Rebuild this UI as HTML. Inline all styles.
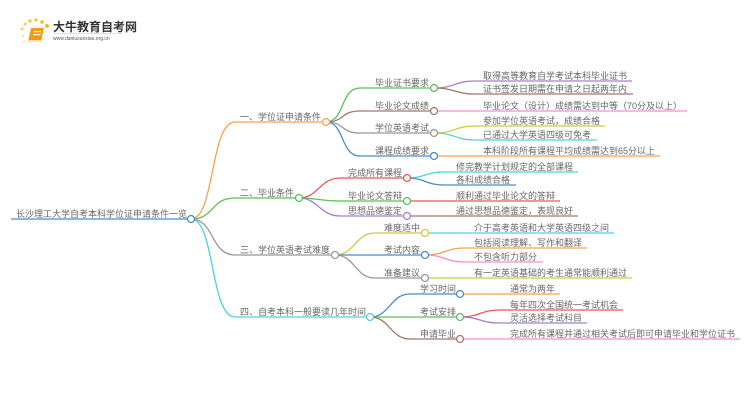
<!DOCTYPE html>
<html><head><meta charset="utf-8"><style>
html,body{margin:0;padding:0;background:#fff;}
svg{display:block;}
text{font-family:"Liberation Sans","Noto Sans CJK SC",sans-serif;font-size:9px;fill:#666;}
</style></head><body>
<svg width="750" height="410" viewBox="0 0 750 410" xmlns="http://www.w3.org/2000/svg">
<!-- logo -->
<g>
<circle cx="22" cy="29" r="1.5" fill="#fbd36b"/><circle cx="25" cy="24" r="1.6" fill="#fbd36b"/><circle cx="30" cy="21" r="1.7" fill="#fbc94a"/><circle cx="36" cy="20" r="1.8" fill="#fbc94a"/><circle cx="42" cy="22" r="1.8" fill="#f7b72c"/><circle cx="47" cy="26" r="2" fill="#f7b72c"/><circle cx="23" cy="36" r="1.3" fill="#fde39a"/><circle cx="24" cy="42" r="1.2" fill="#fde39a"/>
<path d="M31 28 L44 28 L41 42 L28 42 Z" fill="#f29a1a"/>
<path d="M29 40 L41 40 L40 43 L28 43 Z" fill="#fff" opacity="0.7"/>
<rect x="34" y="31" width="7" height="1.2" fill="#fff"/><rect x="33.5" y="34" width="7" height="1.2" fill="#fff"/>
<text x="53" y="31" style="font-size:12px;font-weight:bold;fill:#333">大牛教育自考网</text>
<rect x="53" y="33" width="70" height="0.6" fill="#ccc"/>
<text x="53" y="40" style="font-size:5px;fill:#555">www.daniuxuexiao.org.cn</text>
</g>
<g fill="none" stroke-width="1.3">
<!-- root line -->
<path d="M11 219 H191" stroke="#4a8ccc"/>
<!-- root to branches -->
<path d="M191 219 C215 219 210 122 235 122 H326" stroke="#f9a14f"/>
<path d="M191 219 C215 219 210 198 235 198 H299" stroke="#5cbf5c"/>
<path d="M191 219 C215 219 210 255 235 255 H335" stroke="#999"/>
<path d="M191 219 C215 219 210 317 235 317 H370" stroke="#4dd0e1"/>
<!-- branch1 children -->
<path d="M326 122 C345 122 340 88 360 88 H434" stroke="#5cbf5c"/>
<path d="M326 122 C345 122 340 111 360 111 H434" stroke="#a1776a"/>
<path d="M326 122 C345 122 340 133 360 133 H434" stroke="#999"/>
<path d="M326 122 C345 122 340 156 360 156 H434" stroke="#4a8ccc"/>
<path d="M434 88 C455 88 455 81 475 81 H632" stroke="#a57fd0"/>
<path d="M434 88 C455 88 455 94 475 94 H633" stroke="#a1776a"/>
<path d="M434 111 H687" stroke="#f08fd0"/>
<path d="M434 133 C455 133 455 126 475 126 H605" stroke="#cccc44"/>
<path d="M434 133 C455 133 455 140 475 140 H597" stroke="#4dd0e1"/>
<path d="M434 156 H660" stroke="#f9a14f"/>
<!-- branch2 children -->
<path d="M299 198 C318 198 320 178 340 178 H407" stroke="#ee5555"/>
<path d="M299 198 C318 198 320 201 340 201 H407" stroke="#5cbf5c"/>
<path d="M299 198 C318 198 320 216 340 216 H407" stroke="#a57fd0"/>
<path d="M407 178 C425 178 425 172 445 172 H578" stroke="#4dd0e1"/>
<path d="M407 178 C425 178 425 185 445 185 H516" stroke="#4a8ccc"/>
<path d="M407 201 H560" stroke="#ee5555"/>
<path d="M407 216 H578" stroke="#a1776a"/>
<!-- branch3 children -->
<path d="M335 255 C355 255 355 233 375 233 H425" stroke="#cccc44"/>
<path d="M335 255 H425" stroke="#4a8ccc"/>
<path d="M335 255 C355 255 355 278 375 278 H425" stroke="#999"/>
<path d="M425 233 H614" stroke="#4dd0e1"/>
<path d="M425 255 C445 255 445 248 465 248 H587" stroke="#f9a14f"/>
<path d="M425 255 C445 255 445 262 465 262 H543" stroke="#f08fd0"/>
<path d="M425 278 H632" stroke="#cccc44"/>
<!-- branch4 children -->
<path d="M370 317 C390 317 390 294 410 294 H460" stroke="#4a8ccc"/>
<path d="M370 317 H460" stroke="#5cbf5c"/>
<path d="M370 317 C390 317 390 339 410 339 H460" stroke="#a1776a"/>
<path d="M460 294 H560" stroke="#f9a14f"/>
<path d="M460 317 C480 317 480 310 500 310 H623" stroke="#ee5555"/>
<path d="M460 317 C480 317 480 323 500 323 H587" stroke="#a57fd0"/>
<path d="M460 339 H740" stroke="#f08fd0"/>
</g>
<!-- circles -->
<g fill="#fff" stroke-width="1.3">
<circle cx="191" cy="219" r="3.5" stroke="#4a8ccc"/>
<circle cx="326" cy="122" r="3.5" stroke="#f9a14f"/>
<circle cx="299" cy="198" r="3.5" stroke="#5cbf5c"/>
<circle cx="335" cy="255" r="3.5" stroke="#999"/>
<circle cx="370" cy="317" r="3.5" stroke="#4dd0e1"/>
<circle cx="434" cy="88" r="3.5" stroke="#5cbf5c"/>
<circle cx="434" cy="111" r="3.5" stroke="#a1776a"/>
<circle cx="434" cy="133" r="3.5" stroke="#999"/>
<circle cx="434" cy="156" r="3.5" stroke="#4a8ccc"/>
<circle cx="407" cy="178" r="3.5" stroke="#ee5555"/>
<circle cx="407" cy="201" r="3.5" stroke="#5cbf5c"/>
<circle cx="407" cy="216" r="3.5" stroke="#a57fd0"/>
<circle cx="425" cy="233" r="3.5" stroke="#cccc44"/>
<circle cx="425" cy="255" r="3.5" stroke="#4a8ccc"/>
<circle cx="425" cy="278" r="3.5" stroke="#999"/>
<circle cx="460" cy="294" r="3.5" stroke="#4a8ccc"/>
<circle cx="460" cy="317" r="3.5" stroke="#5cbf5c"/>
<circle cx="460" cy="339" r="3.5" stroke="#a1776a"/>
</g>
<!-- labels -->
<text x="16" y="217">长沙理工大学自考本科学位证申请条件一览</text>
<text x="240" y="120">一、学位证申请条件</text>
<text x="240" y="196">二、毕业条件</text>
<text x="240" y="253">三、学位英语考试难度</text>
<text x="240" y="315">四、自考本科一般要读几年时间</text>
<text x="375" y="86">毕业证书要求</text>
<text x="375" y="109">毕业论文成绩</text>
<text x="375" y="131">学位英语考试</text>
<text x="375" y="154">课程成绩要求</text>
<text x="483" y="79">取得高等教育自学考试本科毕业证书</text>
<text x="483" y="92">证书签发日期需在申请之日起两年内</text>
<text x="483" y="109">毕业论文（设计）成绩需达到中等（70分及以上）</text>
<text x="483" y="124">参加学位英语考试，成绩合格</text>
<text x="483" y="138">已通过大学英语四级可免考</text>
<text x="483" y="154">本科阶段所有课程平均成绩需达到65分以上</text>
<text x="348" y="176">完成所有课程</text>
<text x="348" y="199">毕业论文答辩</text>
<text x="348" y="214">思想品德鉴定</text>
<text x="456" y="170">修完教学计划规定的全部课程</text>
<text x="456" y="183">各科成绩合格</text>
<text x="456" y="199">顺利通过毕业论文的答辩</text>
<text x="456" y="214">通过思想品德鉴定，表现良好</text>
<text x="384" y="231">难度适中</text>
<text x="384" y="253">考试内容</text>
<text x="384" y="276">准备建议</text>
<text x="474" y="231">介于高考英语和大学英语四级之间</text>
<text x="474" y="246">包括阅读理解、写作和翻译</text>
<text x="474" y="260">不包含听力部分</text>
<text x="474" y="276">有一定英语基础的考生通常能顺利通过</text>
<text x="420" y="292">学习时间</text>
<text x="420" y="315">考试安排</text>
<text x="420" y="337">申请毕业</text>
<text x="510" y="292">通常为两年</text>
<text x="510" y="308">每年四次全国统一考试机会</text>
<text x="510" y="321">灵活选择考试科目</text>
<text x="510" y="337">完成所有课程并通过相关考试后即可申请毕业和学位证书</text>
</svg>
</body></html>
